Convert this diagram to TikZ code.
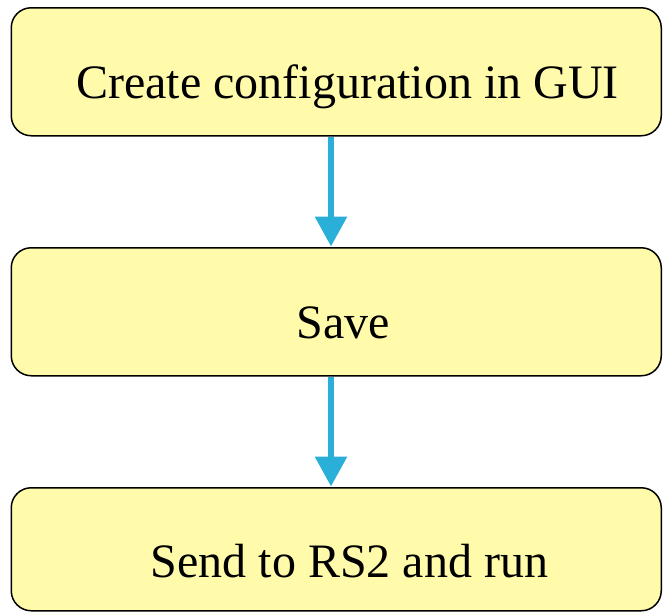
\documentclass[tikz,border=0pt]{standalone}
\usepackage{fontspec}
\setmainfont{Liberation Serif}
\usetikzlibrary{arrows.meta}
\definecolor{boxfill}{HTML}{FFFBAA}
\definecolor{flowblue}{HTML}{2AB0D8}
\tikzset{
  stepbox/.style={draw=black, fill=boxfill, line width=1.5pt, rounded corners=20pt,
    minimum width=650pt, inner sep=0pt, anchor=north west},
  steptext/.style={font=\fontsize{48}{56}\selectfont, inner sep=0pt, anchor=base},
  flow/.style={draw=flowblue, line width=6pt, -{Triangle[width=31pt,length=30pt]}, shorten >=0.5pt}
}
\begin{document}
\begin{tikzpicture}[x=1pt,y=1pt]
  \useasboundingbox (0,0) rectangle (663,-611);
  \node[stepbox, minimum height=128pt] (b1) at (10.5,-7) {};
  \node[stepbox, minimum height=128pt] (b2) at (10.5,-247) {};
  \node[stepbox, minimum height=123pt] (b3) at (10.5,-487) {};
  \node[steptext] (t1) at (347.5,-98) {Create configuration in GUI};
  \node[steptext] (t2) at (343,-338) {Save};
  \node[steptext] (t3) at (349.5,-577.5) {Send to RS2 and run};
  \coordinate (ax) at (331,0);
  \draw[flow] (b1.south -| ax) -- (b2.north -| ax);
  \draw[flow] (b2.south -| ax) -- (b3.north -| ax);
\end{tikzpicture}
\end{document}
